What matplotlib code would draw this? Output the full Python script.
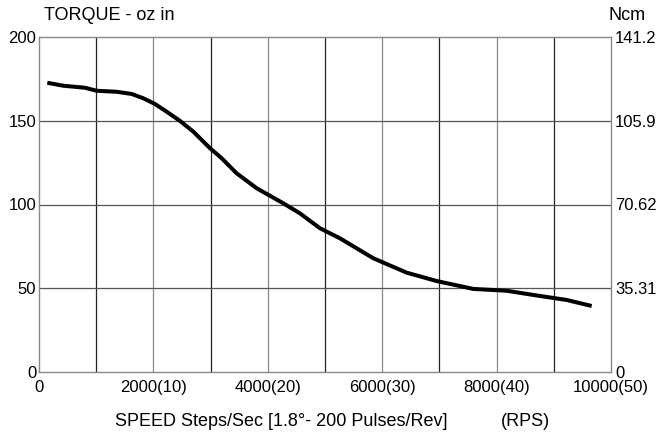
import matplotlib
matplotlib.use('Agg')
import matplotlib.pyplot as plt

plt.rcParams['font.family'] = ['Liberation Sans', 'DejaVu Sans']

# speed (steps/sec) and torque (oz in)
speed = [145, 425, 804, 1008, 1358, 1620, 1824, 2028, 2232, 2465, 2698, 2990,
         3194, 3456, 3806, 4272, 4563, 4913, 5262, 5845, 6428, 6953, 7593,
         8177, 8642, 9225, 9662]
torque = [172.7, 170.9, 169.7, 167.9, 167.3, 166.0, 163.4, 160.0, 155.4, 149.9,
          143.5, 133.6, 127.6, 118.6, 109.7, 100.7, 94.7, 85.8, 79.8, 67.9,
          59.3, 54.3, 49.6, 48.5, 46.0, 43.0, 39.4]

x_ticks = [0, 2000, 4000, 6000, 8000, 10000]
x_labels = ['0', '2000(10)', '4000(20)', '6000(30)', '8000(40)', '10000(50)']
y_ticks = [0, 50, 100, 150, 200]
ncm_labels = ['0', '35.31', '70.62', '105.9', '141.2']

fig = plt.figure(figsize=(6.70, 4.33), dpi=100)
ax = fig.add_axes([39/670, 1 - 372/433, 572/670, 335/433])

# grid lines
for k in range(1, 10):
    col = '#222222' if k % 2 else '#888888'
    ax.axvline(k * 1000, color=col, lw=0.9, zorder=1)
for v in [50, 100, 150]:
    ax.axhline(v, color='#555555', lw=0.9, zorder=1)

ax.plot(speed, torque, color='black', lw=2.9, solid_capstyle='butt', zorder=3)

ax.set_xlim(0, 10000)
ax.set_ylim(0, 200)
ax.set_xticks(x_ticks)
ax.set_xticklabels(x_labels)
ax.set_yticks(y_ticks)
ax.set_yticklabels([str(t) for t in y_ticks])
ax.tick_params(axis='y', length=0, labelsize=12, pad=2)
ax.tick_params(axis='x', length=0, labelsize=12, pad=6)
for s in ax.spines.values():
    s.set_color('#888888')
    s.set_linewidth(1)

ax2 = ax.twinx()
ax2.set_ylim(0, 200)
ax2.set_yticks(y_ticks)
ax2.set_yticklabels(ncm_labels)
ax2.tick_params(length=0, labelsize=12, pad=3)
for s in ax2.spines.values():
    s.set_visible(False)

fig.text(44/670, 1 - 20/433, 'TORQUE - oz in', fontsize=13, va='baseline', ha='left')
fig.text(627/670, 1 - 20/433, 'Ncm', fontsize=13, va='baseline', ha='center')
fig.text(281/670, 1 - 426/433, 'SPEED Steps/Sec [1.8°- 200 Pulses/Rev]',
         fontsize=13, va='baseline', ha='center')
fig.text(525/670, 1 - 426/433, '(RPS)', fontsize=13, va='baseline', ha='center')

fig.savefig('out.png', dpi=100)
